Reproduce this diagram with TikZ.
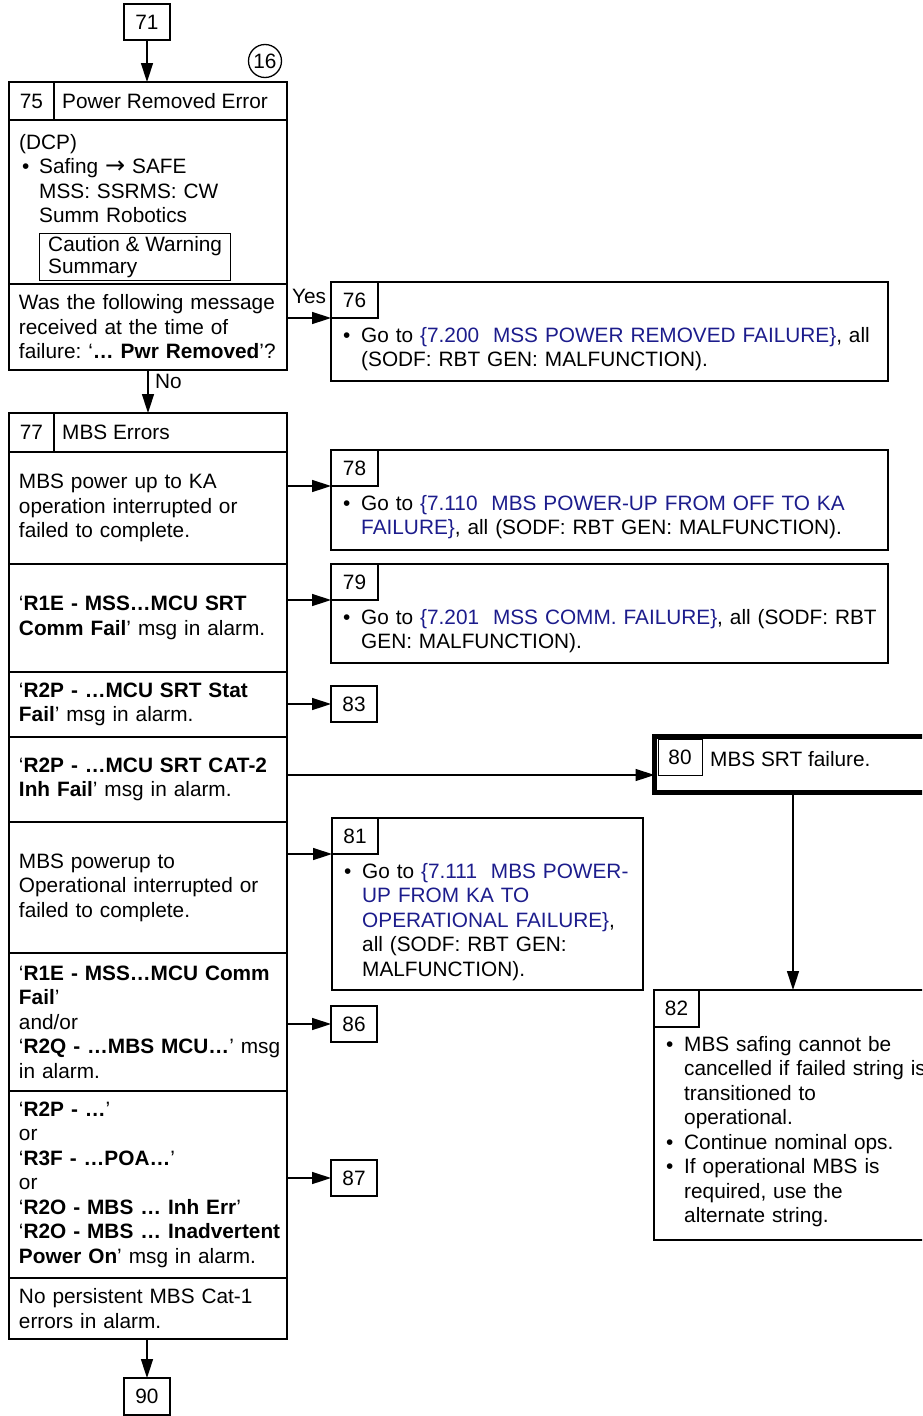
\documentclass[tikz,border=0pt]{standalone}
\usepackage{fontspec}
\setmainfont{Liberation Sans}
\newfontfamily\arrowfont{DejaVu Sans}
\usetikzlibrary{arrows.meta,positioning}
\definecolor{linkblue}{RGB}{28,28,140}
\setlength{\parindent}{0pt}
\frenchspacing
\newcommand{\fsz}{\fontsize{20.8}{24.5}\selectfont}
\newcommand{\itm}{\hangindent=18pt\hangafter=1\noindent\makebox[18pt][l]{\textbullet}}
\newcommand{\lnk}[1]{\textcolor{linkblue}{#1}}

\begin{document}
\begin{tikzpicture}[x=1pt,y=-1pt,
    box/.style={draw,line width=2pt,anchor=north west,inner sep=0pt,outer sep=0pt},
    cell/.style={draw,line width=1.3pt,anchor=north west,inner sep=0pt,outer sep=0pt,minimum width=46pt,minimum height=36pt,font=\fsz},
    row/.style={box,text width=258pt,inner xsep=10pt,align=left,font=\fsz},
    txt/.style={anchor=north west,inner sep=0pt,align=left,font=\fsz},
    arr/.style={line width=1.5pt,-{Triangle[length=19pt,width=12pt]}}]
  \useasboundingbox (0,0) rectangle (922,1416);
  \clip (0,0) rectangle (922,1416);

  % 75 Power Removed Error
  \node[cell] (n71) at (124,4) {71};
  \node[draw,circle,line width=1.3pt,minimum size=33pt,inner sep=0pt,font=\fsz] (c16) at (265,61) {16};
  \node[box,minimum width=278pt,minimum height=38pt] (h75) at (9,82) {};
  \node[cell,minimum width=45pt,minimum height=38pt] (n75) at (h75.north west) {75};
  \node[txt,right=8pt of n75] (t75) {Power Removed Error};
  \node[row,minimum height=164pt] (b75) at (h75.south west) {};
  \node[txt,text width=258pt] (d75) at (19,134) {(DCP)\par
    \hangindent=20pt\hangafter=1\hspace*{3pt}\makebox[17pt][l]{\textbullet}Safing {\arrowfont\fontsize{24}{24.5}\selectfont →} SAFE\newline
    MSS: SSRMS: CW\newline Summ Robotics\par};
  \node[draw,line width=1.3pt,anchor=north west,inner xsep=6pt,inner ysep=0pt,minimum width=191pt,minimum height=47pt,align=left,
    font=\fontsize{20.8}{21.5}\selectfont] (cw) at (39,233) {Caution \& Warning\\Summary};
  \node[row,minimum height=86pt] (q75) at (b75.south west) {Was the following message\\received at the time of\\\mbox{failure: ‘\textbf{… Pwr Removed}’?}};

  % 77 MBS Errors
  \node[box,minimum width=278pt,minimum height=39pt] (h77) at (9,413) {};
  \node[cell,minimum width=45pt,minimum height=39pt] (n77) at (h77.north west) {77};
  \node[txt,right=8pt of n77] (t77) {MBS Errors};
  \node[row,minimum height=112pt] (r1) at (h77.south west) {MBS power up to KA\\operation interrupted or\\failed to complete.};
  \node[row,minimum height=108pt] (r2) at (r1.south west) {‘\textbf{R1E - MSS…MCU SRT}\\\textbf{Comm Fail}’ msg in alarm.};
  \node[row,minimum height=65pt] (r3) at (r2.south west) {‘\textbf{R2P - …MCU SRT Stat}\\\textbf{Fail}’ msg in alarm.};
  \node[row,minimum height=85pt] (r4) at (r3.south west) {‘\textbf{R2P - …MCU SRT CAT-2}\\\textbf{Inh Fail}’ msg in alarm.};
  \node[row,minimum height=131pt] (r5) at (r4.south west) {MBS powerup to\\Operational interrupted or\\failed to complete.};
  \node[row,minimum height=138pt] (r6) at (r5.south west) {‘\textbf{R1E - MSS…MCU Comm}\\\textbf{Fail}’\\and/or\\\mbox{‘\textbf{R2Q - …MBS MCU…}’ msg}\\in alarm.};
  \node[row,minimum height=187pt] (r7) at (r6.south west) {‘\textbf{R2P - …}’\\or\\‘\textbf{R3F - …POA…}’\\or\\‘\textbf{R2O - MBS … Inh Err}’\\\mbox{‘\textbf{R2O - MBS … Inadvertent}}\\\textbf{Power On}’ msg in alarm.};
  \node[row,minimum height=61pt] (r8) at (r7.south west) {No persistent MBS Cat-1\\errors in alarm.};
  \node[cell,minimum height=37pt] (n90) at (124,1378) {90};

  % right hand boxes
  \node[box,minimum width=557pt,minimum height=99pt] (b76) at (331,282) {};
  \node[cell,minimum width=47pt] (n76) at (b76.north west) {76};
  \node[txt,text width=560pt,below right=9pt and 12pt of n76.south west] (t76)
    {\itm Go to \lnk{\{7.200~ MSS POWER REMOVED FAILURE\}}, all\newline (SODF: RBT GEN: MALFUNCTION).\par};
  \node[box,minimum width=557pt,minimum height=100pt] (b78) at (331,450) {};
  \node[cell,minimum width=47pt] (n78) at (b78.north west) {78};
  \node[txt,text width=560pt,below right=9pt and 12pt of n78.south west] (t78)
    {\itm Go to \lnk{\{7.110~ MBS POWER-UP FROM OFF TO KA\newline FAILURE\}}, all (SODF: RBT GEN: MALFUNCTION).\par};
  \node[box,minimum width=557pt,minimum height=99pt] (b79) at (331,564) {};
  \node[cell,minimum width=47pt] (n79) at (b79.north west) {79};
  \node[txt,text width=560pt,below right=9pt and 12pt of n79.south west] (t79)
    {\itm Go to \lnk{\{7.201~ MSS COMM. FAILURE\}}, all (SODF: RBT\newline GEN: MALFUNCTION).\par};
  \node[cell] (n83) at (331,686) {83};
  \node[box,line width=5pt,minimum width=277pt,minimum height=56pt] (b80) at (654.5,736.5) {};
  \node[cell,line width=1pt,minimum width=44pt] (n80) at ([xshift=3.5pt,yshift=-2.5pt]b80.north west) {80};
  \node[txt,right=8pt of n80,yshift=-2pt] (t80) {MBS SRT failure.};
  \node[box,minimum width=311pt,minimum height=172pt] (b81) at (332,818) {};
  \node[cell,minimum width=46pt] (n81) at (b81.north west) {81};
  \node[txt,text width=290pt,below right=9pt and 12pt of n81.south west] (t81)
    {\itm Go to \lnk{\{7.111~ MBS POWER-\newline UP FROM KA TO\newline OPERATIONAL FAILURE\}},\newline all (SODF: RBT GEN:\newline MALFUNCTION).\par};
  \node[cell] (n86) at (331,1006) {86};
  \node[cell] (n87) at (331,1160) {87};
  \node[box,minimum width=277pt,minimum height=250pt] (b82) at (654,990) {};
  \node[cell,minimum width=45pt,minimum height=37pt] (n82) at (b82.north west) {82};
  \node[txt,text width=300pt,below right=9pt and 12pt of n82.south west] (t82)
    {\itm MBS safing cannot be\newline cancelled if failed string is\newline transitioned to\newline operational.\par
     \itm Continue nominal ops.\par
     \itm If operational MBS is\newline required, use the\newline alternate string.\par};

  % connectors
  \draw[arr] (n71) -- (n71 |- h75.north);
  \draw[arr] (q75.east |- n76.south west) -- node[above=10pt,font=\fsz]{Yes} (n76.south west);
  \draw[arr] (q75) -- node[right=3pt,pos=0.26,font=\fsz]{No} (h77);
  \draw[arr] (r1.east |- n78.south west) -- (n78.south west);
  \draw[arr] (r2.east |- n79.south west) -- (n79.south west);
  \draw[arr] (r3.east |- n83.west) -- (n83.west);
  \draw[arr] (r4.east |- n80.south) -- (b80.west |- n80.south);
  \draw[arr] (r5.east |- n81.south west) -- (n81.south west);
  \draw[arr] (r6.east |- n86.west) -- (n86.west);
  \draw[arr] (r7.east |- n87.west) -- (n87.west);
  \draw[arr] (r8.south -| n90) -- (n90);
  \draw[arr] (b80.south) -- (b80.south |- b82.north);
\end{tikzpicture}
\end{document}
